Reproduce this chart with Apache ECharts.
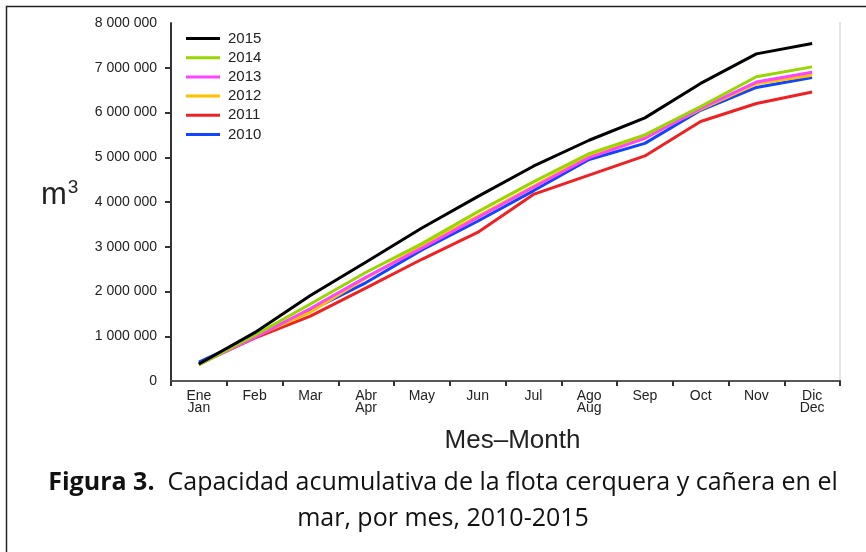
<!DOCTYPE html>
<html>
<head>
<meta charset="utf-8">
<script src="https://cdn.jsdelivr.net/npm/echarts@6/dist/echarts.min.js"></script>
<style>
  html, body { margin: 0; padding: 0; background: #fff; }
  #chart { width: 866px; height: 552px; }
</style>
</head>
<body>
<div id="chart"></div>
<script>
// meses (es / en)
const months = ['Ene\nJan', 'Feb', 'Mar', 'Abr\nApr', 'May', 'Jun', 'Jul', 'Ago\nAug', 'Sep', 'Oct', 'Nov', 'Dic\nDec']
const yearNames = ['2015', '2014', '2013', '2012', '2011', '2010']

// capacidad acumulada, m3
const y2015 = [380000, 1080000, 1910000, 2660000, 3420000, 4120000, 4800000, 5380000, 5880000, 6650000, 7310000, 7540000]
const y2014 = [360000, 1020000, 1720000, 2430000, 3070000, 3780000, 4450000, 5080000, 5500000, 6130000, 6800000, 7020000]
const y2013 = [370000, 970000, 1620000, 2320000, 2970000, 3650000, 4330000, 4990000, 5420000, 6090000, 6680000, 6900000]
const y2012 = [370000, 990000, 1540000, 2300000, 3020000, 3680000, 4350000, 5030000, 5450000, 6070000, 6640000, 6830000]
const y2011 = [380000, 960000, 1450000, 2080000, 2720000, 3320000, 4170000, 4600000, 5030000, 5800000, 6200000, 6460000]
const y2010 = [420000, 1000000, 1580000, 2200000, 2930000, 3570000, 4250000, 4950000, 5310000, 6050000, 6560000, 6780000]

const yTicks = [0, 1000000, 2000000, 3000000, 4000000, 5000000, 6000000, 7000000, 8000000]

const colors = {
  '2015': '#000000',
  '2014': '#99d600',
  '2013': '#ff44ff',
  '2012': '#ffc000',
  '2011': '#ee2222',
  '2010': '#1144ff'
}

function fmt (v) {
  return String(v).replace(/\B(?=(\d{3})+(?!\d))/g, ' ')
}

function mkLine (name, data, z) {
  return {
    name: name,
    type: 'line',
    data: data,
    symbol: 'none',
    z: z,
    lineStyle: { width: 3, color: colors[name] },
    itemStyle: { color: colors[name] }
  }
}

const font = 'Liberation Sans, Arial, sans-serif'
const capFont = 'Open Sans, Noto Sans, sans-serif'
const chart = echarts.init(document.getElementById('chart'))
chart.setOption({
  animation: false,
  backgroundColor: '#fff',
  grid: { left: 171, top: 23, right: 26, bottom: 171, containLabel: false },
  legend: {
    data: yearNames,
    orient: 'vertical',
    left: 181,
    top: 26,
    icon: 'rect',
    itemWidth: 34,
    itemHeight: 3,
    itemGap: 4.2,
    textStyle: { fontFamily: font, fontSize: 15, color: '#222', padding: [0, 0, 0, 3] }
  },
  xAxis: [{
    type: 'category',
    data: months,
    boundaryGap: true,
    name: 'Mes–Month',
    nameLocation: 'middle',
    nameGap: 47,
    nameTextStyle: { fontFamily: font, fontSize: 26, color: '#222', padding: [0, 0, 0, 14] },
    axisLine: { lineStyle: { color: '#333', width: 2 } },
    axisTick: { show: true, length: 5, lineStyle: { color: '#333', width: 2 } },
    axisLabel: { fontFamily: font, fontSize: 14, color: '#222', lineHeight: 12, margin: 9, interval: 0 },
    splitLine: { show: false }
  }, {
    type: 'category',
    data: months,
    position: 'top',
    axisLine: { show: true, lineStyle: { color: '#666', width: 1.5 } },
    axisTick: { show: false },
    axisLabel: { show: false }
  }],
  yAxis: [{
    type: 'value',
    min: 0,
    max: 8000000,
    interval: 1000000,
    axisLine: { show: true, lineStyle: { color: '#333', width: 2 } },
    axisTick: { show: true, length: 6, lineStyle: { color: '#333', width: 2 },
      customValues: yTicks.slice(1, 8) },
    axisLabel: { fontFamily: font, fontSize: 14, color: '#222', margin: 14,
      formatter: v => fmt(v) },
    splitLine: { show: false }
  }, {
    type: 'value',
    min: 0,
    max: 8000000,
    interval: 1000000,
    position: 'right',
    axisLine: { show: true, lineStyle: { color: '#e4e4e4', width: 2 } },
    axisTick: { show: false },
    axisLabel: { show: false },
    splitLine: { show: false }
  }],
  series: [
    mkLine('2011', y2011, 2),
    mkLine('2010', y2010, 3),
    mkLine('2012', y2012, 4),
    mkLine('2013', y2013, 5),
    mkLine('2014', y2014, 6),
    mkLine('2015', y2015, 7)
  ],
  graphic: [
    {
      type: 'rect',
      shape: { x: 6.5, y: 6.5, width: 900, height: 600 },
      style: { fill: 'none', stroke: '#222', lineWidth: 1.5 },
      silent: true
    },
    {
      type: 'text',
      left: 41,
      top: 178,
      style: {
        text: '{m|m}{s|3}',
        rich: {
          m: { fontFamily: font, fontSize: 31, fill: '#222', verticalAlign: 'bottom' },
          s: { fontFamily: font, fontSize: 19, fill: '#222', verticalAlign: 'top', padding: [0, 0, 14, 1] }
        }
      }
    },
    {
      type: 'text',
      x: 443,
      y: 465,
      style: {
        text: '{b|Figura 3.}{n|  Capacidad acumulativa de la flota cerquera y cañera en el}\n{n|mar, por mes, 2010-2015}',
        align: 'center',
        lineHeight: 36,
        rich: {
          b: { fontFamily: capFont, fontSize: 25, fontWeight: 'bold', fill: '#111', lineHeight: 36 },
          n: { fontFamily: capFont, fontSize: 25, fill: '#111', lineHeight: 36 }
        }
      }
    }
  ]
})
</script>
</body>
</html>
